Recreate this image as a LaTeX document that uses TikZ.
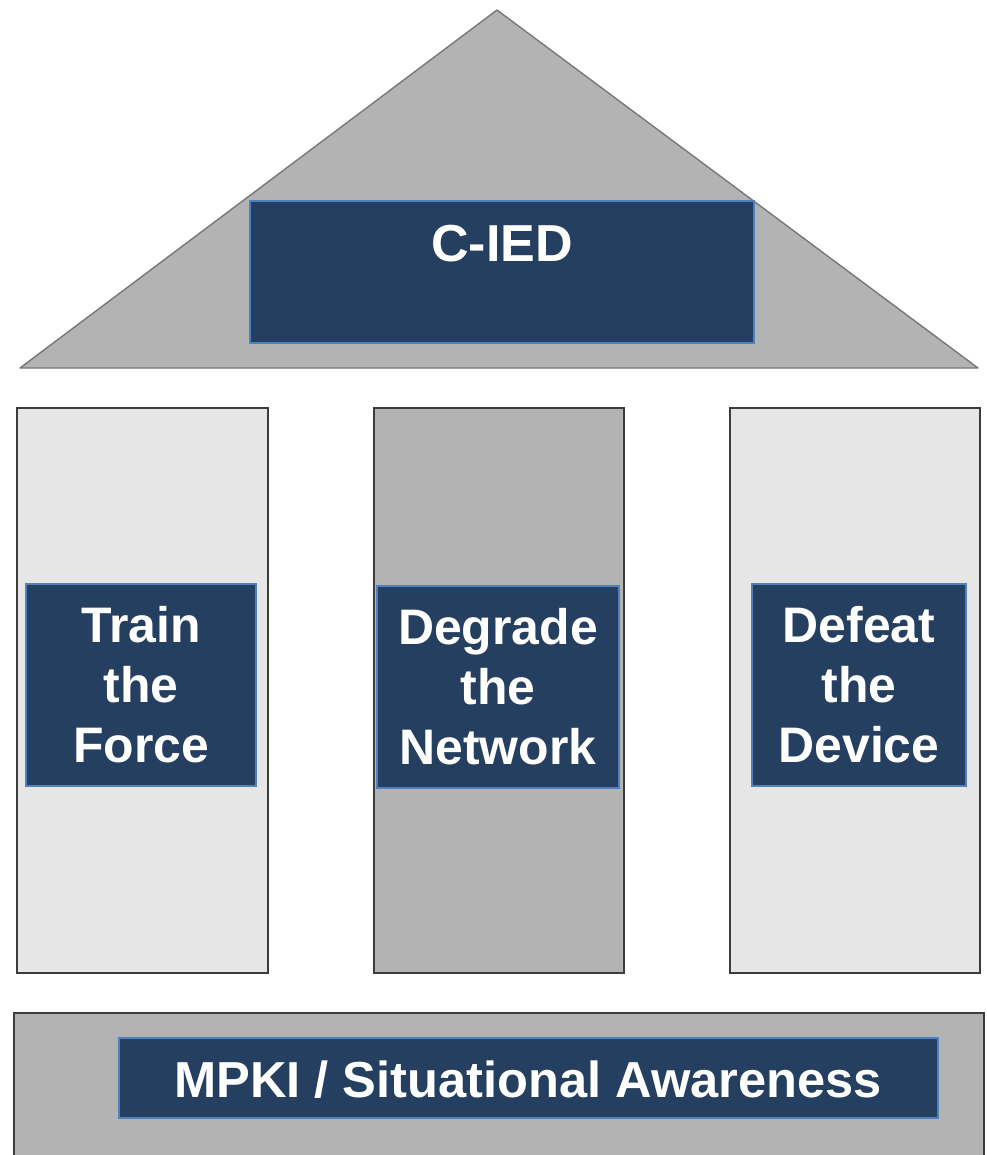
\documentclass[tikz,border=0pt]{standalone}
\usepackage{fontspec}
\setmainfont{Liberation Sans}
\usepackage{xcolor}
\usepackage{tikz}
\usetikzlibrary{positioning}
\definecolor{CiedNavy}{RGB}{37, 63, 96}
\definecolor{CiedEdge}{RGB}{79, 129, 189}
\definecolor{CiedGray}{RGB}{179, 179, 179}
\definecolor{CiedLight}{RGB}{230, 230, 230}
\definecolor{CiedDark}{RGB}{60, 60, 60}
\definecolor{CiedRoofEdge}{RGB}{120, 120, 120}
\tikzset{
  tag/.style={fill=CiedNavy, draw=CiedEdge, line width=0.8pt, inner sep=0pt},
  tagtext/.style={text=white, align=center, font=\fontsize{35.5}{42.7}\selectfont\bfseries},
  pillar/.style={draw=CiedDark, line width=1.6pt}
}
\begin{document}
\begin{tikzpicture}[x=0.25mm,y=-0.25mm]
  \path[use as bounding box] (0,0) rectangle (986,1155);
  % roof
  \filldraw[fill=CiedGray, draw=CiedRoofEdge, line width=1pt, line join=round]
    (20,368) -- (497,10) -- (978,368) -- cycle;
  \node[tag, minimum width=126mm, minimum height=35.5mm] (cied) at (502,272) {};
  \node[tagtext, font=\fontsize{37}{44}\selectfont\bfseries] (ciedtext) at (502,244) {C-IED};
  % pillars
  \draw[pillar, fill=CiedLight] (17,408) rectangle (268,973);
  \draw[pillar, fill=CiedGray] (374,408) rectangle (624,973);
  \draw[pillar, fill=CiedLight] (730,408) rectangle (980,973);
  \node[tag, tagtext, minimum width=57.5mm, minimum height=50.5mm] (train) at (141,685) {Train\\the\\Force};
  \node[tag, tagtext, minimum width=60.5mm, minimum height=50.5mm] (degrade) at (498,687) {Degrade\\the\\Network};
  \node[tag, tagtext, minimum width=53.5mm, minimum height=50.5mm] (defeat) at (859,685) {Defeat\\the\\Device};
  % base
  \draw[pillar, fill=CiedGray] (14,1013) rectangle (984,1165);
  \node[tag, minimum width=204.75mm, minimum height=20mm] (mpki) at (528.5,1078) {};
  \node[tagtext, font=\fontsize{36}{42}\selectfont\bfseries] (mpkitext) at (528,1080) {MPKI / Situational Awareness};
\end{tikzpicture}
\end{document}
